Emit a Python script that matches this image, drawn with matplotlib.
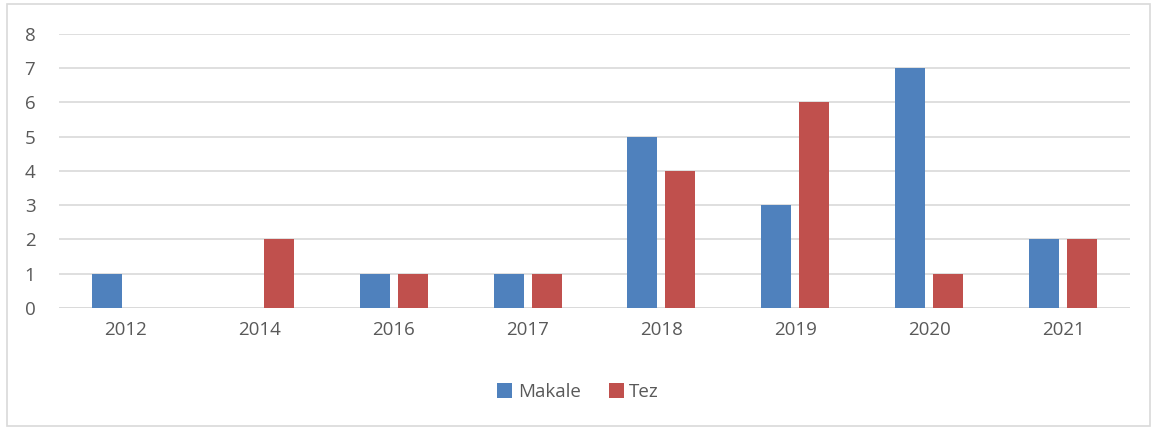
import matplotlib.pyplot as plt
import numpy as np
from matplotlib.patches import Rectangle

# veriler
years = ['2012', '2014', '2016', '2017', '2018', '2019', '2020', '2021']
makale = [1, 0, 1, 1, 5, 3, 7, 2]
tez = [0, 2, 1, 1, 4, 6, 1, 2]

plt.rcParams['font.family'] = ['Open Sans', 'DejaVu Sans']

fig = plt.figure(figsize=(11.56, 4.30), dpi=100)
ax = fig.add_axes([0.051, 0.2837, 0.9265, 0.6373])

# dış çerçeve
fig.patches.append(Rectangle((7 / 1156, 4 / 430), 1143 / 1156, 422 / 430,
                             transform=fig.transFigure, fill=False,
                             edgecolor='#D9D9D9', linewidth=1.2))

x = np.arange(len(years))
w = 0.224
off = 0.142
ax.bar(x - off, makale, w, color='#4F81BD', label='Makale', zorder=3)
ax.bar(x + off, tez, w, color='#C0504D', label='Tez', zorder=3)

ax.set_xlim(-0.5, len(years) - 0.5)
ax.set_ylim(0, 8)
ax.set_yticks(range(9))
ax.set_xticks(x)
ax.set_xticklabels(years)
ax.yaxis.grid(True, color='#D9D9D9', linewidth=1.2, zorder=0)
for s in ax.spines.values():
    s.set_visible(False)
ax.axhline(0, color='#D9D9D9', linewidth=1.2, zorder=2)
ax.tick_params(axis='both', length=0, labelsize=13.5, labelcolor='#595959')
ax.tick_params(axis='y', pad=17)
ax.tick_params(axis='x', pad=9)

fig.legend(loc='center', bbox_to_anchor=(0.5, 1 - 392 / 430), ncol=2,
           frameon=False, fontsize=13.5, labelcolor='#595959',
           handlelength=0.8, handleheight=0.8, handletextpad=0.3, columnspacing=1.5)

fig.savefig('out.png', dpi=100)
